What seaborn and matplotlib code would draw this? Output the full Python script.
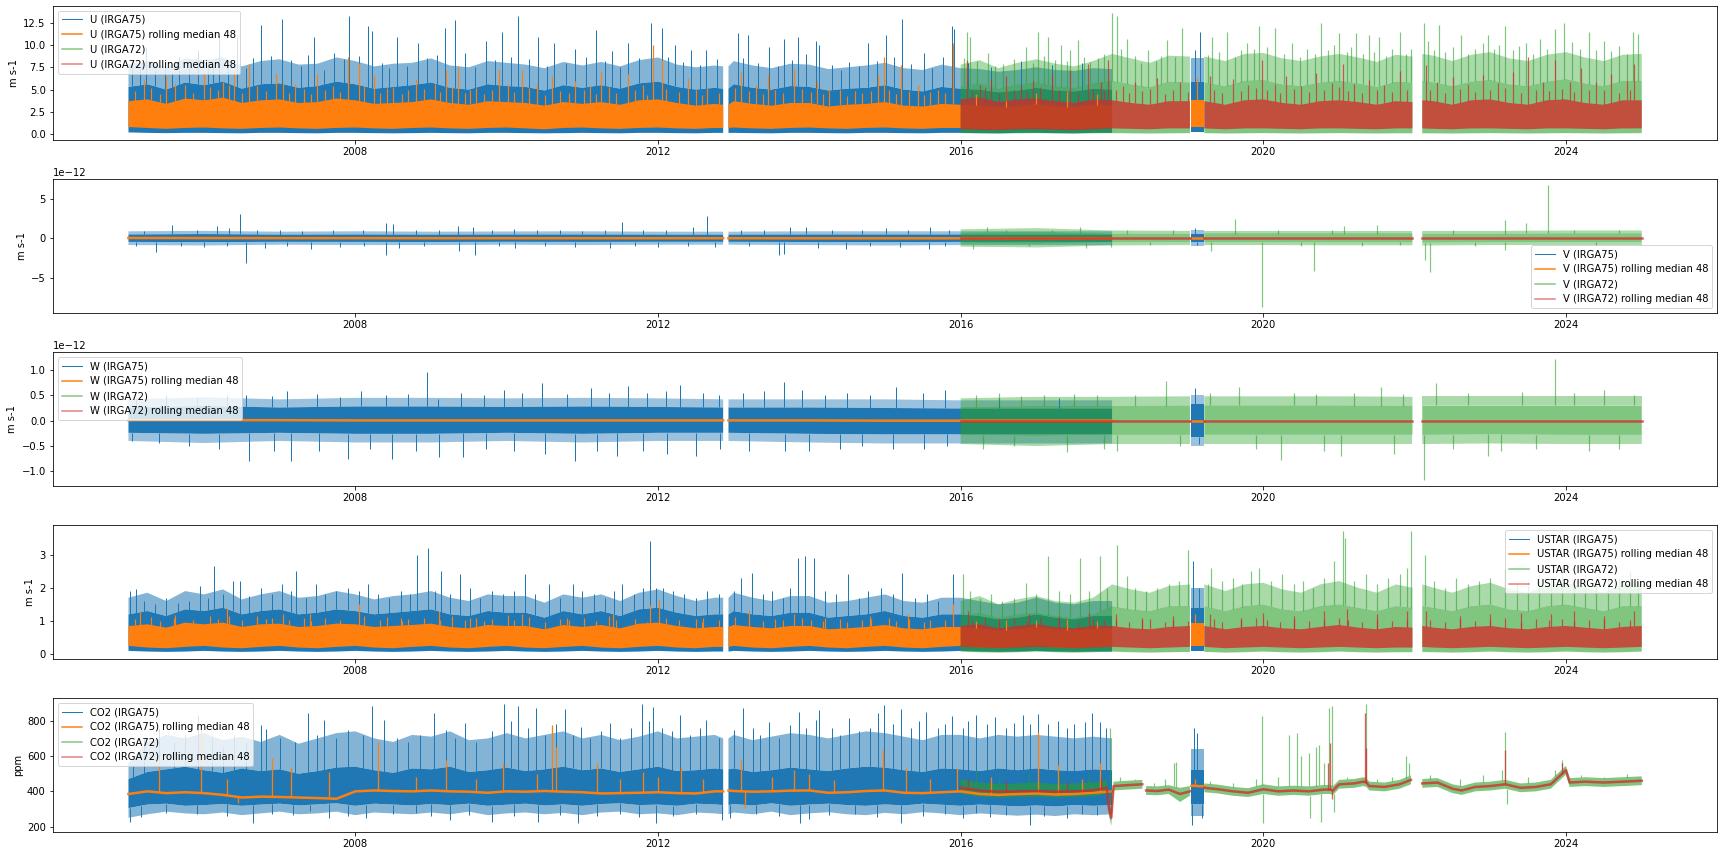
import numpy as np
import pandas as pd
import matplotlib
matplotlib.use("Agg")
import matplotlib.pyplot as plt
import matplotlib.dates as mdates
from matplotlib.lines import Line2D
import seaborn as sns

N = np.nan

# ---------------- time grids (decimal years; NaN values mark data gaps) ----------------
t75q = [2005.0, 2005.25, 2005.5, 2005.75,
        2006.0, 2006.25, 2006.5, 2006.75,
        2007.0, 2007.25, 2007.5, 2007.75,
        2008.0, 2008.25, 2008.5, 2008.75,
        2009.0, 2009.25, 2009.5, 2009.75,
        2010.0, 2010.25, 2010.5, 2010.75,
        2011.0, 2011.25, 2011.5, 2011.75,
        2012.0, 2012.25, 2012.5, 2012.75,
        2012.86, 2012.88, 2012.93,
        2013.0, 2013.25, 2013.5, 2013.75,
        2014.0, 2014.25, 2014.5, 2014.75,
        2015.0, 2015.25, 2015.5, 2015.75,
        2016.0, 2016.25, 2016.5, 2016.75,
        2017.0, 2017.25, 2017.5, 2017.75,
        2018.0, 2018.02, 2019.05, 2019.22]
t72q = [2016.0, 2016.25, 2016.5, 2016.75,
        2017.0, 2017.25, 2017.5, 2017.75,
        2018.0, 2018.25, 2018.5, 2018.75,
        2019.03, 2019.1, 2019.22, 2019.5, 2019.75,
        2020.0, 2020.25, 2020.5, 2020.75,
        2021.0, 2021.25, 2021.5, 2021.75,
        2021.97, 2022.0, 2022.1,
        2022.25, 2022.5, 2022.75,
        2023.0, 2023.25, 2023.5, 2023.75,
        2024.0, 2024.25, 2024.5, 2024.75,
        2025.0]
t75y = [2005.0, 2006.0, 2007.0, 2008.0, 2009.0, 2010.0, 2011.0, 2012.0,
        2012.86, 2012.88, 2012.93, 2014.0, 2015.0, 2016.0, 2017.0, 2018.0,
        2018.02, 2019.05, 2019.22]
t72y = [2016.0, 2017.0, 2018.0, 2019.03, 2019.1, 2019.22, 2020.0, 2021.0,
        2021.97, 2022.0, 2022.1, 2023.0, 2024.0, 2025.0]
t72c = [2016.0, 2016.25, 2016.5, 2016.75,
        2017.0, 2017.25, 2017.5, 2017.75,
        2017.93, 2017.96, 2017.99, 2018.02,
        2018.2, 2018.4, 2018.42, 2018.45,
        2018.6, 2018.75, 2018.9, 2019.03,
        2019.1, 2019.22, 2019.4, 2019.6,
        2019.8, 2020.0, 2020.2, 2020.4,
        2020.6, 2020.8, 2020.88, 2020.92,
        2021.0, 2021.2, 2021.32, 2021.36,
        2021.4, 2021.6, 2021.8, 2021.95,
        2022.0, 2022.1, 2022.3, 2022.5,
        2022.62, 2022.8, 2023.0, 2023.2,
        2023.4, 2023.6, 2023.8, 2023.9,
        2024.0, 2024.05, 2024.25, 2024.5,
        2024.75, 2025.0]

# ---------------- U (m s-1): dense core (lo..hi) and frequent-excursion fringe (hi..fhi) ----------------
u75_lo = [0.2, 0.15, 0.12, 0.15, 0.15, 0.12, 0.1, 0.15, 0.15, 0.12, 0.1, 0.15,
          0.15, 0.12, 0.1, 0.12, 0.15, 0.12, 0.1, 0.15, 0.15, 0.12, 0.1, 0.12,
          0.15, 0.12, 0.1, 0.15, 0.15, 0.12, 0.1, 0.15,
          0.15, N, 0.15,
          0.15, 0.12, 0.1, 0.15, 0.15, 0.12, 0.1, 0.15, 0.15, 0.12, 0.1, 0.15,
          0.15, 0.12, 0.1, 0.15, 0.15, 0.12, 0.1, 0.15,
          0.15, N, 0.2, 0.2]
u75_hi = [5.3, 5.6, 5.0, 5.8, 5.5, 5.9, 5.1, 5.6, 5.7, 5.2, 5.4, 5.9,
          5.6, 5.1, 5.3, 5.5, 5.8, 5.2, 5.0, 5.6, 5.4, 5.3, 4.9, 5.5,
          5.2, 5.5, 5.1, 5.7, 5.9, 5.3, 5.0, 5.2,
          5.1, N, 5.1,
          5.6, 5.2, 5.0, 5.4, 5.3, 4.9, 5.1, 5.2, 5.5, 5.0, 4.8, 5.3,
          5.1, 5.0, 4.7, 4.9, 5.2, 4.9, 4.8, 5.1,
          5.0, N, 5.8, 5.8]
u75_fhi = [7.8, 8.2, 7.5, 8.5, 8.3, 8.6, 7.6, 8.2, 8.4, 7.8, 7.9, 8.6,
           8.2, 7.6, 7.9, 8.0, 8.5, 7.7, 7.5, 8.2, 8.0, 7.8, 7.4, 8.1,
           7.7, 8.1, 7.6, 8.3, 8.6, 7.8, 7.5, 7.7,
           7.6, N, 7.6,
           8.2, 7.7, 7.4, 7.9, 7.8, 7.3, 7.5, 7.7, 8.0, 7.4, 7.2, 7.8,
           7.4, 7.3, 7.0, 7.2, 7.5, 7.2, 7.1, 7.4,
           7.3, N, 8.5, 8.5]
u75_mlo = [0.8, 0.7, 0.6, 0.7, 0.75, 0.65, 0.6, 0.7, 0.75, 0.65, 0.6, 0.7,
           0.75, 0.65, 0.6, 0.7, 0.75, 0.65, 0.6, 0.7, 0.75, 0.65, 0.55, 0.7,
           0.75, 0.65, 0.6, 0.7, 0.75, 0.65, 0.6, 0.7,
           0.7, N, 0.7,
           0.75, 0.65, 0.6, 0.7, 0.75, 0.65, 0.6, 0.7, 0.75, 0.65, 0.6, 0.7,
           0.7, 0.6, 0.55, 0.65, 0.7, 0.6, 0.55, 0.65,
           0.7, N, 0.8, 0.8]
u75_mhi = [3.7, 3.9, 3.4, 4.0, 3.8, 4.1, 3.5, 3.8, 3.9, 3.5, 3.6, 4.0,
           3.8, 3.4, 3.5, 3.6, 3.9, 3.5, 3.3, 3.7, 3.6, 3.5, 3.2, 3.6,
           3.4, 3.6, 3.3, 3.8, 3.9, 3.5, 3.2, 3.4,
           3.3, N, 3.3,
           3.7, 3.4, 3.2, 3.5, 3.5, 3.1, 3.3, 3.4, 3.6, 3.2, 3.1, 3.4,
           3.3, 3.2, 3.0, 3.1, 3.4, 3.1, 3.0, 3.3,
           3.2, N, 3.8, 3.8]
u72_lo = [0.12, 0.1, 0.08, 0.1, 0.12, 0.1, 0.08, 0.1, 0.12, 0.1, 0.08, 0.1,
          0.12, N, 0.12, 0.08, 0.1,
          0.12, 0.1, 0.08, 0.1, 0.12, 0.1, 0.08, 0.1,
          0.1, N, 0.1,
          0.1, 0.08, 0.1,
          0.12, 0.1, 0.08, 0.1, 0.12, 0.1, 0.08, 0.1,
          0.12]
u72_hi = [5.4, 5.7, 5.1, 5.6, 5.8, 5.4, 5.2, 5.7, 6.0, 5.6, 5.3, 5.9,
          5.8, N, 5.8, 5.4, 6.0,
          6.1, 5.6, 5.4, 5.8, 6.0, 5.7, 5.3, 5.9,
          5.8, N, 6.0,
          5.8, 5.4, 5.9,
          6.1, 5.6, 5.4, 5.9, 6.2, 5.7, 5.4, 6.0,
          6.0]
u72_fhi = [7.8, 8.3, 7.4, 8.0, 8.4, 7.9, 7.6, 8.2, 9.0, 8.5, 8.0, 8.8,
           8.7, N, 8.7, 8.2, 9.0,
           9.1, 8.5, 8.2, 8.7, 9.0, 8.6, 8.1, 8.9,
           8.7, N, 9.0,
           8.8, 8.2, 8.9,
           9.2, 8.5, 8.2, 8.9, 9.2, 8.6, 8.2, 8.9,
           9.0]
u72_mlo = [0.55, 0.5, 0.45, 0.55, 0.55, 0.5, 0.45, 0.55, 0.65, 0.6, 0.55, 0.65,
           0.65, N, 0.65, 0.55, 0.65,
           0.65, 0.6, 0.55, 0.65, 0.65, 0.6, 0.55, 0.65,
           0.65, N, 0.65,
           0.6, 0.55, 0.65,
           0.65, 0.6, 0.55, 0.65, 0.65, 0.6, 0.55, 0.65,
           0.65]
u72_mhi = [3.9, 4.1, 3.6, 3.9, 4.0, 3.7, 3.5, 3.9, 3.8, 3.5, 3.3, 3.7,
           3.7, N, 3.7, 3.3, 3.8,
           3.9, 3.5, 3.3, 3.7, 3.8, 3.6, 3.3, 3.7,
           3.6, N, 3.8,
           3.7, 3.3, 3.8,
           3.9, 3.5, 3.3, 3.8, 3.9, 3.5, 3.3, 3.8,
           3.8]
u75_spk_t = [2005.05, 2005.15, 2005.23, 2005.35, 2005.48, 2005.58, 2005.67, 2005.8, 2005.92, 2006.05,
             2006.12, 2006.2, 2006.32, 2006.44, 2006.55, 2006.65, 2006.75, 2006.88, 2007.03, 2007.15,
             2007.28, 2007.38, 2007.45, 2007.58, 2007.72, 2007.85, 2007.92, 2008.05, 2008.17, 2008.22,
             2008.35, 2008.45, 2008.55, 2008.68, 2008.83, 2008.95, 2009.08, 2009.18, 2009.31, 2009.45,
             2009.58, 2009.73, 2009.85, 2009.94, 2010.06, 2010.15, 2010.3, 2010.42, 2010.53, 2010.63,
             2010.78, 2010.9, 2011.05, 2011.18, 2011.3, 2011.39, 2011.5, 2011.6, 2011.75, 2011.91,
             2012.05, 2012.13, 2012.22, 2012.33, 2012.43, 2012.55, 2012.64, 2012.78, 2013.05, 2013.12,
             2013.19, 2013.32, 2013.47, 2013.58, 2013.67, 2013.77, 2013.85, 2013.95, 2014.09, 2014.13,
             2014.3, 2014.42, 2014.52, 2014.65, 2014.78, 2014.9, 2015.01, 2015.12, 2015.23, 2015.35,
             2015.51, 2015.62, 2015.77, 2015.89, 2015.91, 2016.1, 2016.4, 2016.8, 2017.2, 2017.6,
             2019.1, 2019.16]
u75_spk_v = [8.0, 7.5, 9.8, 7.2, 7.8, 7.0, 8.7, 7.6, 9.4, 8.2,
             7.5, 11.1, 8.0, 10.9, 7.4, 8.5, 12.2, 8.8, 12.9, 8.3,
             7.6, 8.9, 10.9, 7.2, 9.1, 8.4, 13.2, 8.8, 12.1, 11.6,
             8.0, 7.4, 10.9, 7.6, 10.2, 8.5, 8.9, 11.9, 12.8, 9.1,
             7.5, 10.4, 8.3, 11.5, 8.7, 13.3, 8.4, 10.9, 7.6, 10.2,
             8.0, 9.6, 8.6, 11.7, 8.2, 9.3, 7.5, 10.2, 8.5, 12.5,
             11.9, 8.7, 10.0, 8.1, 9.4, 7.8, 9.4, 8.4, 11.3, 8.5,
             11.1, 8.0, 9.8, 7.6, 10.7, 8.3, 10.9, 9.0, 10.4, 10.0,
             7.8, 7.2, 8.1, 7.6, 10.2, 8.2, 11.1, 8.6, 12.9, 7.9,
             9.1, 7.4, 8.7, 12.1, 11.8, 8.0, 7.5, 8.2, 7.8, 8.0,
             9.4, 11.4]
u75m_spk_t = [2005.2, 2005.5, 2005.75, 2006.0, 2006.25, 2006.4, 2006.6, 2006.95, 2007.2, 2007.5,
              2007.7, 2007.9, 2008.05, 2008.25, 2008.5, 2008.8, 2009.05, 2009.2, 2009.35, 2009.6,
              2009.9, 2010.2, 2010.4, 2010.6, 2010.9, 2011.1, 2011.25, 2011.6, 2011.8, 2011.93,
              2012.05, 2012.4, 2012.65, 2013.1, 2013.3, 2013.45, 2013.8, 2014.1, 2014.26, 2014.6,
              2014.91, 2014.99, 2015.21, 2015.44, 2015.7, 2015.9, 2019.12]
u75m_spk_v = [6.1, 6.5, 5.5, 7.0, 5.8, 7.3, 7.9, 6.8, 5.6, 6.8,
              5.4, 8.7, 8.0, 6.6, 5.3, 6.2, 5.6, 7.2, 7.6, 5.2,
              7.3, 7.2, 5.6, 6.5, 6.0, 5.4, 7.1, 6.7, 5.5, 10.0,
              8.3, 6.3, 5.2, 7.0, 5.5, 6.6, 7.3, 6.0, 5.1, 4.8,
              6.6, 8.7, 7.8, 5.5, 5.0, 10.2, 6.3]
u75m_mid_t = [2005.08, 2005.3, 2005.42, 2005.62, 2005.85, 2006.08, 2006.18, 2006.33, 2006.5, 2006.7,
              2006.82, 2007.05, 2007.12, 2007.32, 2007.42, 2007.6, 2007.8, 2008.12, 2008.32, 2008.42,
              2008.62, 2008.7, 2008.9, 2009.12, 2009.28, 2009.45, 2009.52, 2009.7, 2009.8, 2010.02,
              2010.1, 2010.3, 2010.5, 2010.7, 2010.82, 2011.02, 2011.18, 2011.35, 2011.45, 2011.7,
              2011.85, 2012.1, 2012.28, 2012.5, 2012.58, 2012.8, 2013.02, 2013.2, 2013.38, 2013.55,
              2013.65, 2013.9, 2014.02, 2014.18, 2014.4, 2014.5, 2014.7, 2014.82, 2015.05, 2015.15,
              2015.32, 2015.52, 2015.6, 2015.8, 2016.2, 2016.6, 2017.0, 2017.4, 2017.8]
u75m_mid_v = [4.8, 5.2, 4.5, 5.6, 4.6, 5.3, 4.9, 5.5, 4.6, 5.4,
              4.8, 5.7, 4.6, 5.1, 4.5, 5.0, 4.7, 5.4, 4.6, 5.2,
              4.5, 4.9, 5.1, 4.7, 5.3, 4.6, 5.0, 4.5, 4.9, 5.6,
              4.7, 5.2, 4.4, 4.8, 4.6, 5.0, 4.5, 5.3, 4.6, 4.9,
              4.4, 5.1, 4.7, 4.9, 4.4, 4.6, 5.2, 4.8, 4.5, 4.9,
              4.6, 5.1, 4.7, 4.5, 4.9, 4.3, 4.6, 4.8, 5.0, 4.5,
              4.8, 4.4, 4.7, 4.6, 4.5, 4.7, 4.6, 4.8, 4.5]
u72_spk_t = [2016.05, 2016.09, 2016.13, 2016.22, 2016.36, 2016.45, 2016.56, 2016.7, 2016.86, 2016.95,
             2017.02, 2017.1, 2017.15, 2017.25, 2017.32, 2017.4, 2017.45, 2017.55, 2017.63, 2017.71,
             2017.81, 2017.9, 2018.0, 2018.06, 2018.12, 2018.2, 2018.3, 2018.38, 2018.47, 2018.58,
             2018.65, 2018.73, 2018.83, 2018.93, 2019.27, 2019.32, 2019.42, 2019.52, 2019.62, 2019.7,
             2019.78, 2019.88, 2019.95, 2020.05, 2020.16, 2020.27, 2020.38, 2020.48, 2020.58, 2020.68,
             2020.76, 2020.86, 2020.93, 2021.0, 2021.1, 2021.16, 2021.23, 2021.31, 2021.39, 2021.46,
             2021.53, 2021.62, 2021.7, 2021.81, 2021.88, 2021.95, 2022.12, 2022.18, 2022.25, 2022.32,
             2022.4, 2022.5, 2022.61, 2022.7, 2022.8, 2022.9, 2022.97, 2023.05, 2023.12, 2023.2,
             2023.3, 2023.38, 2023.47, 2023.56, 2023.66, 2023.75, 2023.86, 2023.98, 2024.08, 2024.18,
             2024.3, 2024.4, 2024.5, 2024.6, 2024.7, 2024.8, 2024.88, 2024.95]
u72_spk_v = [8.5, 11.5, 10.9, 8.2, 9.1, 7.6, 7.9, 8.4, 9.8, 8.0,
             11.5, 8.8, 10.9, 8.3, 10.0, 8.2, 9.4, 10.6, 8.6, 8.1,
             8.5, 9.0, 13.6, 13.2, 9.5, 10.7, 8.8, 8.0, 9.4, 8.2,
             8.8, 10.6, 8.6, 11.9, 8.9, 10.9, 9.2, 11.5, 8.7, 9.4,
             10.2, 9.6, 12.1, 9.8, 11.9, 9.0, 10.2, 8.6, 9.5, 9.0,
             12.5, 9.4, 10.0, 11.3, 9.2, 9.8, 11.3, 9.0, 11.1, 9.2,
             10.9, 8.8, 9.6, 11.4, 9.0, 9.6, 12.5, 10.5, 9.4, 12.2,
             9.2, 9.8, 11.1, 9.0, 9.6, 10.2, 11.1, 9.6, 10.0, 12.1,
             9.4, 9.9, 10.2, 9.0, 10.7, 9.5, 11.8, 12.5, 10.3, 9.6,
             11.5, 9.4, 10.5, 9.3, 9.9, 9.0, 11.4, 11.2]
u72m_spk_t = [2016.08, 2016.25, 2016.4, 2016.6, 2016.8, 2016.95, 2017.2, 2017.45, 2017.68, 2017.85,
              2017.95, 2018.15, 2018.3, 2018.6, 2018.9, 2019.3, 2019.6, 2019.8, 2019.98, 2020.15,
              2020.3, 2020.5, 2020.7, 2020.9, 2021.05, 2021.2, 2021.4, 2021.6, 2021.8, 2022.15,
              2022.3, 2022.5, 2022.7, 2022.9, 2023.1, 2023.3, 2023.5, 2023.7, 2023.85, 2024.05,
              2024.2, 2024.4, 2024.6, 2024.8, 2024.9]
u72m_spk_v = [8.3, 5.5, 6.2, 6.5, 5.4, 6.0, 6.9, 7.2, 7.9, 5.8,
              8.3, 5.4, 5.8, 6.3, 5.8, 6.5, 6.2, 5.5, 8.3, 5.6,
              6.5, 5.4, 6.9, 5.7, 7.9, 5.6, 6.1, 5.5, 7.1, 7.8,
              5.8, 6.4, 5.6, 6.6, 5.7, 7.0, 8.6, 5.8, 8.3, 5.9,
              7.4, 5.8, 6.7, 6.0, 7.9]
u72m_mid_t = [2016.15, 2016.32, 2016.5, 2016.7, 2016.88, 2017.05, 2017.3, 2017.55, 2017.75, 2017.9,
              2018.05, 2018.22, 2018.4, 2018.5, 2018.7, 2018.8, 2019.0, 2019.35, 2019.45, 2019.7,
              2019.9, 2020.05, 2020.22, 2020.4, 2020.6, 2020.8, 2021.0, 2021.12, 2021.3, 2021.5,
              2021.7, 2021.9, 2022.2, 2022.4, 2022.6, 2022.8, 2023.0, 2023.2, 2023.4, 2023.6,
              2023.78, 2023.95, 2024.1, 2024.3, 2024.5, 2024.7, 2024.85]
u72m_mid_v = [4.8, 5.2, 4.6, 5.0, 4.7, 5.3, 4.9, 4.6, 5.1, 4.8,
              5.0, 4.6, 4.8, 5.1, 4.5, 4.9, 4.7, 5.0, 4.6, 4.8,
              5.2, 4.9, 4.6, 5.1, 4.7, 4.9, 5.3, 4.8, 4.6, 5.0,
              4.7, 5.0, 4.9, 4.6, 5.1, 4.7, 4.9, 5.2, 4.6, 5.0,
              4.8, 5.1, 4.7, 4.9, 5.0, 4.6, 4.9]

# ---------------- V (units of 1e-12 m s-1) ----------------
v75_lo = [-0.45, -0.48, -0.44, -0.45, -0.46, -0.44, -0.45, -0.44, -0.44, N, -0.44,
          -0.46, -0.47, -0.45, -0.45, -0.45, N, -0.5, -0.5]
v75_hi = [0.5, 0.55, 0.48, 0.5, 0.48, 0.5, 0.5, 0.48, 0.48, N, 0.48,
          0.5, 0.5, 0.5, 0.5, 0.5, N, 0.6, 0.6]
v75_flo = [-0.85, -0.9, -0.8, -0.85, -0.85, -0.8, -0.85, -0.8, -0.8, N, -0.8,
           -0.85, -0.9, -0.85, -0.85, -0.85, N, -0.95, -0.95]
v75_fhi = [0.9, 0.95, 0.85, 0.9, 0.85, 0.88, 0.9, 0.85, 0.85, N, 0.85,
           0.9, 0.9, 0.9, 0.9, 0.9, N, 1.05, 1.05]
v75_med = [0.05, 0.04, 0.03, 0.03, 0.02, 0.02, 0.02, 0.02, 0.02, N, 0.02,
           0.01, 0.01, 0.01, 0.0, 0.0, N, 0.0, 0.0]
v72_lo = [-0.65, -0.7, -0.5, -0.5, N, -0.5, -0.5, -0.52, -0.52, N, -0.55, -0.5, -0.5, -0.5]
v72_hi = [0.75, 0.85, 0.62, 0.6, N, 0.6, 0.6, 0.6, 0.6, N, 0.6, 0.6, 0.65, 0.65]
v72_flo = [-1.05, -1.15, -0.9, -0.85, N, -0.85, -0.85, -0.88, -0.88, N, -0.9, -0.85, -0.85, -0.85]
v72_fhi = [1.15, 1.3, 1.0, 0.95, N, 0.95, 0.95, 0.95, 0.95, N, 0.95, 0.95, 1.0, 1.0]
v72_med = [0.0, 0.0, 0.0, 0.0, N, 0.0, 0.0, 0.0, 0.0, N, 0.0, 0.0, 0.0, 0.0]
v75_spk_t = [2005.1, 2005.2, 2005.37, 2005.58, 2005.7, 2005.9, 2006.0, 2006.17, 2006.3, 2006.33,
             2006.48, 2006.56, 2006.7, 2006.8, 2007.0, 2007.1, 2007.3, 2007.41, 2007.7, 2007.8,
             2008.1, 2008.12, 2008.4, 2008.41, 2008.5, 2008.57, 2008.8, 2008.9, 2009.1, 2009.35,
             2009.37, 2009.56, 2009.58, 2009.8, 2009.9, 2010.1, 2010.11, 2010.4, 2010.5, 2010.7,
             2010.9, 2011.0, 2011.3, 2011.36, 2011.53, 2011.7, 2011.8, 2012.0, 2012.1, 2012.4,
             2012.46, 2012.65, 2012.75, 2013.1, 2013.2, 2013.4, 2013.6, 2013.67, 2013.74, 2013.95,
             2014.12, 2014.3, 2014.49, 2014.7, 2014.8, 2015.01, 2015.2, 2015.3, 2015.58, 2015.6,
             2015.8, 2015.85, 2019.1, 2019.12]
v75_spk_v = [-1.0, 0.9, -1.7, 1.7, -1.0, 1.0, -1.1, 1.6, -1.0, 1.3,
             3.1, -3.1, 1.1, -1.2, 1.0, -1.0, 0.9, -1.4, 1.0, -1.1,
             1.1, -1.0, 2.0, -2.1, 1.8, -1.2, 1.0, -1.0, 1.1, 1.6,
             -1.6, 1.5, -2.1, 1.0, -1.0, 1.2, -1.2, 1.0, -1.0, 1.1,
             -1.1, 0.9, 1.0, -1.2, 2.1, -1.0, 1.0, -1.1, 1.1, -1.0,
             1.4, 2.8, -1.1, 1.0, -1.0, 1.1, -2.1, -2.0, 1.4, 1.5,
             -1.2, 1.0, -1.3, 1.1, -1.0, 1.3, -1.1, 1.0, -1.3, 1.4,
             -1.0, 1.1, 1.3, -0.8]
v72_spk_t = [2016.16, 2016.35, 2016.6, 2016.9, 2017.2, 2017.58, 2017.66, 2017.99, 2018.2, 2018.5,
             2018.8, 2019.31, 2019.62, 2019.98, 2020.2, 2020.5, 2020.67, 2020.9, 2021.07, 2021.3,
             2021.5, 2021.8, 2022.14, 2022.2, 2022.5, 2022.8, 2023.19, 2023.2, 2023.47, 2023.76,
             2024.1, 2024.4, 2024.7]
v72_spk_v = [-1.4, 1.4, 1.0, -1.0, 1.1, 1.4, -1.2, -1.1, 1.0, -0.9,
             1.1, -1.6, 2.4, -8.7, 1.0, -1.0, -4.1, 1.1, 1.6, -1.0,
             1.7, -0.9, -2.7, -4.3, 1.0, -1.0, -1.5, 2.35, 2.0, 6.8,
             1.1, -1.0, 1.0]

# ---------------- W (units of 1e-12 m s-1) ----------------
w75_lo = [-0.24, -0.26, -0.24, -0.26, -0.26, -0.24, -0.26, -0.24, -0.24, N, -0.24,
          -0.26, -0.27, -0.27, -0.27, -0.27, N, -0.32, -0.32]
w75_hi = [0.26, 0.29, 0.26, 0.28, 0.28, 0.27, 0.28, 0.27, 0.26, N, 0.26,
          0.26, 0.25, 0.24, 0.24, 0.24, N, 0.32, 0.32]
w75_flo = [-0.4, -0.44, -0.4, -0.43, -0.43, -0.4, -0.43, -0.4, -0.4, N, -0.4,
           -0.43, -0.45, -0.45, -0.45, -0.45, N, -0.5, -0.5]
w75_fhi = [0.42, 0.46, 0.42, 0.45, 0.45, 0.44, 0.45, 0.44, 0.42, N, 0.42,
           0.42, 0.42, 0.4, 0.4, 0.4, N, 0.5, 0.5]
w75_med = [0.01, 0.01, 0.01, 0.005, 0.005, 0.005, 0.005, 0.005, 0.005, N, 0.005,
           0.005, 0.0, 0.0, 0.0, 0.0, N, 0.0, 0.0]
w72_lo = [-0.28, -0.3, -0.28, -0.28, N, -0.28, -0.28, -0.28, -0.28, N, -0.28, -0.27, -0.28, -0.28]
w72_hi = [0.27, 0.29, 0.29, 0.3, N, 0.3, 0.3, 0.3, 0.29, N, 0.3, 0.3, 0.3, 0.3]
w72_flo = [-0.46, -0.5, -0.46, -0.46, N, -0.46, -0.46, -0.46, -0.46, N, -0.46, -0.45, -0.46, -0.46]
w72_fhi = [0.44, 0.47, 0.47, 0.48, N, 0.48, 0.48, 0.48, 0.47, N, 0.48, 0.48, 0.48, 0.48]
w72_med = [0.0, 0.0, 0.0, 0.0, N, 0.0, 0.0, 0.0, 0.0, N, 0.0, 0.0, 0.0, 0.0]
w75_spk_t = [2005.05, 2005.1, 2005.4, 2005.5, 2005.8, 2005.9, 2006.2, 2006.3, 2006.55, 2006.6,
             2006.9, 2006.92, 2007.1, 2007.15, 2007.5, 2007.52, 2007.8, 2007.9, 2008.07, 2008.2,
             2008.4, 2008.48, 2008.7, 2008.8, 2008.95, 2009.09, 2009.1, 2009.4, 2009.42, 2009.7,
             2009.72, 2009.97, 2010.1, 2010.2, 2010.46, 2010.5, 2010.8, 2010.9, 2011.11, 2011.2,
             2011.35, 2011.46, 2011.6, 2011.8, 2011.85, 2012.1, 2012.12, 2012.29, 2012.5, 2012.6,
             2012.8, 2012.82, 2013.12, 2013.2, 2013.4, 2013.67, 2013.68, 2013.9, 2014.0, 2014.2,
             2014.4, 2014.5, 2014.7, 2014.8, 2015.1, 2015.15, 2015.5, 2015.52, 2015.8, 2015.82,
             2016.5, 2017.3, 2019.1, 2019.15]
w75_spk_v = [-0.4, 0.45, -0.45, 0.5, -0.5, 0.45, -0.55, 0.5, 0.5, -0.8,
             0.48, -0.6, 0.58, -0.8, 0.52, -0.6, 0.47, -0.75, 0.58, -0.55,
             0.5, -0.76, 0.52, -0.6, 0.96, 0.42, -0.72, 0.55, -0.72, 0.5,
             -0.55, 0.6, -0.6, 0.55, 0.75, -0.65, 0.52, -0.79, 0.64, -0.6,
             0.55, -0.69, 0.68, -0.6, 0.55, 0.58, -0.65, 0.7, -0.7, 0.55,
             0.5, -0.55, 0.55, -0.6, 0.58, 0.77, -0.59, 0.6, -0.6, 0.5,
             -0.56, 0.55, -0.5, 0.5, -0.56, 0.67, 0.55, -0.55, 0.6, -0.5,
             0.45, 0.45, 0.64, -0.46]
w72_spk_t = [2016.2, 2016.3, 2016.5, 2016.7, 2016.8, 2017.1, 2017.4, 2017.5, 2017.8, 2017.9,
             2018.07, 2018.3, 2018.71, 2018.9, 2019.3, 2019.68, 2019.9, 2020.23, 2020.4, 2020.7,
             2020.8, 2021.03, 2021.2, 2021.56, 2021.72, 2021.85, 2022.12, 2022.28, 2022.5, 2022.7,
             2022.97, 2023.14, 2023.42, 2023.6, 2023.86, 2024.1, 2024.3, 2024.5, 2024.7, 2024.9]
w72_spk_v = [0.5, -0.55, 0.54, -0.5, 0.48, 0.5, -0.62, 0.52, 0.5, -0.55,
             -0.59, 0.5, 0.78, -0.5, 0.55, 0.67, -0.55, -0.77, 0.55, 0.52,
             -0.6, -0.69, 0.55, 0.66, -0.66, 0.52, -1.17, 0.75, -0.55, 0.55,
             -0.69, -0.6, 0.57, -0.55, 1.22, 0.55, -0.6, 0.6, -0.55, 0.5]

# ---------------- USTAR (m s-1) ----------------
us75_lo = [0.1, 0.08, 0.07, 0.08, 0.1, 0.08, 0.07, 0.08, 0.1, 0.08, 0.07, 0.08,
           0.1, 0.08, 0.07, 0.08, 0.1, 0.08, 0.07, 0.08, 0.1, 0.08, 0.07, 0.08,
           0.1, 0.08, 0.07, 0.08, 0.1, 0.08, 0.07, 0.08,
           0.08, N, 0.08,
           0.1, 0.08, 0.07, 0.08, 0.1, 0.08, 0.07, 0.08, 0.1, 0.08, 0.07, 0.08,
           0.1, 0.08, 0.07, 0.08, 0.1, 0.08, 0.07, 0.08,
           0.08, N, 0.1, 0.1]
us75_hi = [1.2, 1.3, 1.15, 1.35, 1.3, 1.4, 1.2, 1.3, 1.35, 1.2, 1.25, 1.35,
           1.3, 1.2, 1.25, 1.3, 1.35, 1.2, 1.15, 1.3, 1.25, 1.25, 1.1, 1.3,
           1.2, 1.3, 1.15, 1.35, 1.4, 1.25, 1.15, 1.2,
           1.2, N, 1.2,
           1.3, 1.2, 1.15, 1.25, 1.25, 1.1, 1.15, 1.2, 1.3, 1.15, 1.1, 1.2,
           1.2, 1.15, 1.05, 1.1, 1.2, 1.1, 1.05, 1.15,
           1.15, N, 1.4, 1.4]
us75_fhi = [1.7, 1.85, 1.6, 1.9, 1.8, 1.95, 1.65, 1.8, 1.9, 1.7, 1.75, 1.9,
            1.8, 1.65, 1.75, 1.8, 1.9, 1.7, 1.6, 1.8, 1.75, 1.75, 1.55, 1.8,
            1.7, 1.8, 1.6, 1.85, 1.95, 1.75, 1.6, 1.7,
            1.7, N, 1.7,
            1.85, 1.7, 1.6, 1.75, 1.75, 1.55, 1.6, 1.7, 1.8, 1.6, 1.55, 1.7,
            1.7, 1.6, 1.5, 1.55, 1.7, 1.55, 1.5, 1.6,
            1.6, N, 2.0, 2.0]
us75_mlo = [0.25, 0.2, 0.18, 0.22, 0.25, 0.2, 0.18, 0.22, 0.25, 0.2, 0.18, 0.22,
            0.25, 0.2, 0.18, 0.22, 0.25, 0.2, 0.18, 0.22, 0.25, 0.2, 0.18, 0.22,
            0.25, 0.2, 0.18, 0.22, 0.25, 0.2, 0.18, 0.22,
            0.22, N, 0.22,
            0.25, 0.2, 0.18, 0.22, 0.25, 0.2, 0.18, 0.22, 0.25, 0.2, 0.18, 0.22,
            0.25, 0.2, 0.18, 0.22, 0.25, 0.2, 0.18, 0.22,
            0.22, N, 0.25, 0.25]
us75_mhi = [0.85, 0.9, 0.8, 0.95, 0.9, 0.95, 0.82, 0.9, 0.92, 0.82, 0.85, 0.92,
            0.9, 0.82, 0.85, 0.88, 0.92, 0.82, 0.78, 0.88, 0.85, 0.85, 0.75, 0.88,
            0.82, 0.88, 0.78, 0.92, 0.95, 0.85, 0.78, 0.82,
            0.82, N, 0.82,
            0.88, 0.82, 0.78, 0.85, 0.85, 0.75, 0.78, 0.82, 0.88, 0.78, 0.75, 0.82,
            0.82, 0.78, 0.72, 0.75, 0.82, 0.75, 0.72, 0.78,
            0.78, N, 0.95, 0.95]
us72_lo = [0.08, 0.06, 0.05, 0.06, 0.08, 0.06, 0.05, 0.06, 0.08, 0.06, 0.05, 0.06,
           0.07, N, 0.07, 0.05, 0.06,
           0.08, 0.06, 0.05, 0.06, 0.08, 0.06, 0.05, 0.06,
           0.06, N, 0.07,
           0.06, 0.05, 0.06,
           0.08, 0.06, 0.05, 0.06, 0.08, 0.06, 0.05, 0.06,
           0.08]
us72_hi = [1.15, 1.25, 1.1, 1.2, 1.25, 1.15, 1.1, 1.2, 1.45, 1.35, 1.3, 1.45,
           1.45, N, 1.45, 1.3, 1.45,
           1.5, 1.35, 1.3, 1.45, 1.5, 1.4, 1.3, 1.45,
           1.4, N, 1.45,
           1.4, 1.3, 1.45,
           1.5, 1.35, 1.3, 1.45, 1.5, 1.4, 1.3, 1.45,
           1.45]
us72_fhi = [1.6, 1.75, 1.5, 1.65, 1.75, 1.6, 1.55, 1.7, 2.1, 1.95, 1.85, 2.05,
            2.1, N, 2.1, 1.9, 2.1,
            2.15, 1.95, 1.85, 2.1, 2.2, 2.0, 1.85, 2.1,
            2.0, N, 2.1,
            2.0, 1.85, 2.05,
            2.15, 1.95, 1.85, 2.05, 2.15, 2.0, 1.85, 2.1,
            2.1]
us72_mlo = [0.22, 0.2, 0.18, 0.2, 0.22, 0.2, 0.18, 0.2, 0.22, 0.2, 0.18, 0.2,
            0.22, N, 0.22, 0.18, 0.2,
            0.22, 0.2, 0.18, 0.2, 0.22, 0.2, 0.18, 0.2,
            0.2, N, 0.22,
            0.2, 0.18, 0.2,
            0.22, 0.2, 0.18, 0.2, 0.22, 0.2, 0.18, 0.2,
            0.22]
us72_mhi = [0.85, 0.9, 0.78, 0.85, 0.9, 0.82, 0.78, 0.85, 0.85, 0.78, 0.75, 0.82,
            0.85, N, 0.85, 0.75, 0.82,
            0.85, 0.78, 0.75, 0.82, 0.88, 0.8, 0.75, 0.82,
            0.8, N, 0.85,
            0.8, 0.75, 0.82,
            0.85, 0.78, 0.75, 0.82, 0.85, 0.8, 0.75, 0.82,
            0.85]
us75_spk_t = [2005.02, 2005.1, 2005.2, 2005.35, 2005.5, 2005.65, 2005.8, 2005.95, 2006.05, 2006.13,
              2006.25, 2006.38, 2006.48, 2006.6, 2006.75, 2006.9, 2007.03, 2007.15, 2007.22, 2007.35,
              2007.48, 2007.6, 2007.75, 2007.9, 2008.05, 2008.17, 2008.3, 2008.45, 2008.6, 2008.72,
              2008.82, 2008.96, 2009.05, 2009.13, 2009.25, 2009.38, 2009.52, 2009.65, 2009.8, 2009.95,
              2010.1, 2010.24, 2010.38, 2010.56, 2010.7, 2010.87, 2011.0, 2011.15, 2011.3, 2011.42,
              2011.53, 2011.68, 2011.8, 2011.9, 2011.97, 2012.07, 2012.2, 2012.35, 2012.5, 2012.65,
              2012.8, 2013.0, 2013.09, 2013.24, 2013.38, 2013.5, 2013.65, 2013.75, 2013.85, 2013.94,
              2014.06, 2014.2, 2014.35, 2014.51, 2014.65, 2014.78, 2014.95, 2015.1, 2015.23, 2015.4,
              2015.55, 2015.7, 2015.9, 2019.07, 2019.15]
us75_spk_v = [1.9, 1.95, 1.6, 1.5, 1.7, 1.55, 1.6, 2.05, 1.7, 2.65,
              1.8, 2.2, 2.2, 1.75, 2.0, 1.8, 2.1, 1.9, 2.5, 1.7,
              2.1, 1.8, 1.9, 2.0, 1.9, 2.1, 1.8, 1.7, 1.9, 1.8,
              3.0, 3.2, 1.9, 2.5, 1.8, 2.4, 2.0, 1.7, 1.9, 1.8,
              1.9, 2.4, 1.8, 2.1, 1.7, 2.1, 1.9, 1.8, 1.7, 1.9,
              2.1, 1.8, 2.0, 3.4, 2.0, 2.0, 1.9, 1.8, 1.7, 1.9,
              1.8, 1.9, 2.3, 2.45, 1.8, 1.9, 1.7, 2.0, 2.9, 2.95,
              2.9, 1.9, 1.8, 2.4, 1.7, 1.9, 2.0, 1.8, 2.45, 1.7,
              1.8, 1.6, 2.4, 2.8, 2.0]
us75m_spk_t = [2005.15, 2005.6, 2006.3, 2006.9, 2007.4, 2008.05, 2008.6, 2009.1, 2009.6, 2010.2,
               2010.8, 2011.4, 2011.9, 2012.02, 2012.6, 2013.2, 2013.8, 2014.2, 2014.8, 2015.3,
               2015.9, 2019.1]
us75m_spk_v = [1.3, 1.1, 1.4, 1.1, 1.2, 1.5, 1.1, 1.3, 1.1, 1.2,
               1.1, 1.2, 1.47, 1.63, 1.1, 1.3, 1.2, 1.1, 1.15, 1.2,
               1.5, 1.2]
us75m_mid_v = [1.05, 1.12, 1.0, 1.18, 1.02, 1.14, 1.07, 1.16, 1.02, 1.15,
               1.05, 1.2, 1.02, 1.1, 1.0, 1.09, 1.04, 1.15, 1.02, 1.12,
               1.0, 1.07, 1.1, 1.04, 1.14, 1.02, 1.09, 1.0, 1.07, 1.18,
               1.04, 1.12, 0.98, 1.05, 1.02, 1.09, 1.0, 1.14, 1.02, 1.07,
               0.98, 1.1, 1.04, 1.07, 0.98, 1.02, 1.12, 1.05, 1.0, 1.07,
               1.02, 1.1, 1.04, 1.0, 1.07, 0.96, 1.02, 1.05, 1.09, 1.0,
               1.05, 0.98, 1.04, 1.02, 1.0, 1.04, 1.02, 1.05, 1.0]
us72_spk_t = [2016.03, 2016.12, 2016.25, 2016.4, 2016.55, 2016.7, 2016.86, 2017.0, 2017.15, 2017.3,
              2017.45, 2017.57, 2017.7, 2017.84, 2017.93, 2018.07, 2018.2, 2018.3, 2018.45, 2018.6,
              2018.75, 2018.88, 2019.01, 2019.27, 2019.31, 2019.45, 2019.6, 2019.72, 2019.84, 2019.95,
              2020.1, 2020.25, 2020.4, 2020.52, 2020.65, 2020.8, 2020.93, 2021.05, 2021.08, 2021.2,
              2021.35, 2021.5, 2021.65, 2021.8, 2021.9, 2021.95, 2022.13, 2022.25, 2022.4, 2022.55,
              2022.7, 2022.85, 2023.0, 2023.2, 2023.35, 2023.5, 2023.65, 2023.8, 2023.95, 2024.1,
              2024.25, 2024.4, 2024.55, 2024.7, 2024.85, 2024.95]
us72_spk_v = [2.4, 1.9, 1.7, 1.8, 1.6, 1.7, 2.15, 1.8, 2.95, 1.9,
              1.8, 2.9, 1.9, 2.95, 2.0, 3.3, 2.35, 2.0, 1.9, 2.0,
              2.1, 2.2, 3.15, 2.1, 2.6, 2.2, 2.3, 2.1, 2.5, 2.6,
              2.2, 2.4, 2.1, 2.2, 2.0, 2.3, 2.8, 3.7, 3.5, 2.2,
              2.4, 2.1, 2.3, 2.4, 2.6, 3.7, 3.0, 2.2, 2.0, 2.3,
              2.1, 2.2, 2.3, 2.55, 2.1, 2.2, 2.4, 2.3, 2.7, 2.2,
              2.4, 2.1, 2.2, 2.3, 2.5, 2.2]
us72m_spk_t = [2016.1, 2016.5, 2016.9, 2017.3, 2017.7, 2018.05, 2018.4, 2018.8, 2019.3, 2019.7,
               2020.0, 2020.4, 2020.8, 2021.1, 2021.5, 2021.9, 2022.15, 2022.6, 2023.0, 2023.4,
               2023.8, 2024.1, 2024.5, 2024.9]
us72m_spk_v = [1.3, 1.1, 1.2, 1.15, 1.25, 1.2, 1.1, 1.15, 1.2, 1.1,
               1.25, 1.15, 1.3, 1.35, 1.2, 1.3, 1.3, 1.15, 1.2, 1.25,
               1.2, 1.3, 1.15, 1.3]
us72m_mid_v = [1.02, 1.08, 0.98, 1.05, 1.0, 1.1, 1.03, 0.98, 1.06, 1.02,
               1.05, 0.98, 1.02, 1.06, 0.97, 1.03, 1.0, 1.05, 0.98, 1.02,
               1.08, 1.03, 0.98, 1.06, 1.0, 1.03, 1.1, 1.02, 0.98, 1.05,
               1.0, 1.05, 1.03, 0.98, 1.06, 1.0, 1.03, 1.08, 0.98, 1.05,
               1.02, 1.06, 1.0, 1.03, 1.05, 0.98, 1.03]

# ---------------- CO2 (ppm) ----------------
co2_75_lo = [305, 325, 330, 318, 322, 328, 318, 325, 330, 320, 326, 332,
             318, 330, 325, 320, 328, 322, 330, 318, 324, 330, 320, 326,
             318, 328, 332, 322, 325, 318, 330, 326,
             322, N, 322,
             328, 320, 332, 318, 325, 330, 322, 318, 326, 320, 330, 324,
             318, 325, 320, 315, 320, 314, 322, 318,
             322, N, 330, 330]
co2_75_hi = [470, 510, 525, 540, 520, 505, 530, 515, 525, 500, 515, 535,
             540, 520, 505, 530, 525, 540, 510, 520, 535, 515, 525, 540,
             520, 530, 510, 525, 540, 515, 520, 530,
             525, N, 525,
             530, 510, 520, 535, 525, 515, 530, 540, 535, 520, 510, 530,
             525, 515, 530, 520, 530, 520, 515, 525,
             520, N, 520, 520]
co2_75_fhi = [560, 680, 720, 700, 730, 690, 710, 680, 720, 670, 700, 730,
              740, 700, 680, 720, 710, 740, 690, 700, 730, 700, 720, 740,
              700, 720, 690, 710, 740, 700, 710, 720,
              700, N, 700,
              720, 690, 710, 730, 720, 700, 720, 740, 730, 710, 690, 720,
              720, 700, 720, 710, 720, 710, 700, 710,
              700, N, 640, 640]
co2_75_flo = [250, 270, 285, 275, 270, 280, 265, 275, 285, 270, 275, 285,
              265, 280, 275, 270, 280, 270, 285, 265, 275, 280, 270, 278,
              265, 280, 285, 270, 275, 265, 280, 275,
              270, N, 270,
              280, 270, 285, 265, 275, 282, 270, 265, 278, 270, 282, 275,
              265, 275, 268, 262, 268, 260, 270, 265,
              270, N, 260, 260]
co2_75_med = [385, 400, 390, 395, 390, 380, 365, 370, 368, 365, 362, 358,
              400, 405, 402, 400, 405, 400, 398, 392, 400, 398, 402, 398,
              395, 388, 390, 392, 395, 390, 388, 400,
              400, N, 405,
              402, 398, 400, 404, 405, 392, 395, 402, 405, 392, 390, 395,
              400, 385, 380, 385, 388, 382, 385, 392,
              400, N, 432, 428]
co2_72_med = [420, 405, 398, 400, 402, 398, 400, 405, 420, 300, 250, 430,
              435, 440, N, 405, 402, 410, 385, 400, N, 420, 412, 400,
              392, 412, 400, 405, 400, 410, 410, 405, 440, 445, 455, 450,
              430, 425, 440, 465, N, 445, 450, 415, 405, 425, 430, 440,
              420, 425, 440, 480, 520, 450, 455, 450, 455, 460]
co2_72_lo = [385, 370, 365, 368, 370, 365, 368, 372, 385, 260, 205, 405,
             410, 415, N, 380, 378, 385, 340, 375, N, 395, 388, 375,
             368, 385, 375, 380, 375, 385, 385, 380, 415, 420, 430, 425,
             405, 400, 415, 440, N, 420, 425, 390, 380, 400, 405, 415,
             395, 400, 415, 455, 495, 425, 430, 425, 430, 435]
co2_72_hi = [470, 450, 440, 445, 450, 440, 445, 450, 465, 340, 300, 455,
             460, 465, N, 430, 428, 435, 420, 430, N, 445, 438, 425,
             418, 440, 428, 432, 428, 436, 436, 430, 465, 470, 480, 475,
             455, 450, 465, 490, N, 470, 475, 440, 430, 450, 455, 465,
             445, 450, 465, 505, 545, 475, 480, 475, 480, 485]
co2_75_up_t = [2005.06, 2005.2, 2005.4, 2005.6, 2005.75, 2005.92, 2006.1, 2006.25, 2006.4, 2006.55,
               2006.75, 2006.82, 2007.0, 2007.2, 2007.38, 2007.5, 2007.58, 2007.75, 2007.9, 2008.1,
               2008.22, 2008.38, 2008.55, 2008.7, 2008.85, 2009.04, 2009.2, 2009.32, 2009.45, 2009.6,
               2009.8, 2009.97, 2010.05, 2010.15, 2010.28, 2010.39, 2010.5, 2010.65, 2010.77, 2010.88,
               2010.98, 2011.1, 2011.25, 2011.36, 2011.5, 2011.65, 2011.79, 2011.88, 2011.94, 2012.05,
               2012.18, 2012.29, 2012.42, 2012.55, 2012.64, 2012.8, 2013.0, 2013.12, 2013.25, 2013.35,
               2013.47, 2013.6, 2013.74, 2013.86, 2013.95, 2014.09, 2014.13, 2014.3, 2014.4, 2014.52,
               2014.65, 2014.8, 2014.91, 2014.99, 2015.1, 2015.21, 2015.35, 2015.45, 2015.54, 2015.7,
               2015.8, 2015.89, 2016.03, 2016.1, 2016.2, 2016.35, 2016.46, 2016.6, 2016.7, 2016.82,
               2016.92, 2017.02, 2017.15, 2017.28, 2017.4, 2017.5, 2017.64, 2017.73, 2017.84, 2017.92,
               2019.08, 2019.13]
co2_75_up_v = [549, 700, 760, 680, 720, 832, 700, 650, 720, 680,
               775, 751, 700, 680, 842, 720, 804, 700, 750, 720,
               883, 804, 700, 680, 720, 842, 750, 700, 789, 680,
               740, 894, 800, 883, 760, 870, 720, 780, 864, 720,
               766, 700, 740, 785, 700, 760, 894, 800, 879, 760,
               740, 832, 720, 760, 804, 700, 750, 870, 760, 720,
               794, 700, 775, 851, 760, 804, 860, 760, 720, 813,
               740, 760, 842, 889, 780, 864, 760, 800, 851, 760,
               780, 826, 760, 800, 832, 780, 823, 760, 790, 832,
               780, 838, 780, 800, 760, 780, 794, 845, 794, 760,
               757, 728]
co2_75_dn_t = [2005.02, 2005.16, 2005.5, 2005.9, 2006.3, 2006.65, 2006.9, 2007.17, 2007.4, 2007.65,
               2007.9, 2008.14, 2008.5, 2008.8, 2009.0, 2009.25, 2009.5, 2009.8, 2010.1, 2010.42,
               2010.7, 2010.94, 2011.2, 2011.5, 2011.75, 2011.98, 2012.2, 2012.5, 2012.84, 2012.95,
               2013.3, 2013.6, 2013.88, 2013.99, 2014.26, 2014.6, 2014.9, 2015.21, 2015.5, 2015.8,
               2016.03, 2016.2, 2016.39, 2016.6, 2016.92, 2017.1, 2017.41, 2017.6, 2017.8, 2019.06,
               2019.19]
co2_75_dn_v = [228, 257, 280, 270, 260, 219, 270, 266, 290, 247,
               260, 247, 270, 280, 260, 238, 265, 228, 260, 228,
               265, 219, 260, 270, 255, 219, 260, 270, 238, 247,
               270, 260, 223, 241, 266, 270, 255, 219, 260, 270,
               247, 280, 257, 265, 209, 260, 247, 270, 266, 209,
               247]
co2_75m_spk_t = [2005.4, 2005.96, 2006.3, 2006.45, 2006.9, 2007.15, 2007.65, 2008.3, 2008.8, 2009.2,
                 2009.6, 2009.95, 2010.4, 2010.6, 2010.65, 2011.2, 2011.5, 2011.8, 2012.0, 2012.3,
                 2012.6, 2013.1, 2013.15, 2013.5, 2013.8, 2014.0, 2014.32, 2014.98, 2015.28, 2015.6,
                 2015.95, 2016.4, 2017.02, 2017.28, 2017.6, 2017.84, 2019.1]
co2_75m_spk_v = [580, 757, 470, 332, 587, 540, 510, 681, 480, 580,
                 470, 560, 500, 775, 650, 558, 470, 510, 480, 540,
                 470, 580, 304, 480, 520, 500, 464, 634, 530, 470,
                 530, 480, 738, 549, 470, 558, 470]
co2_72_spk_t = [2016.2, 2016.5, 2016.9, 2017.3, 2017.7, 2017.97, 2018.1, 2018.3, 2018.55, 2018.7,
                2018.82, 2018.85, 2018.9, 2019.3, 2019.6, 2019.9, 2019.98, 2020.0, 2020.2, 2020.34,
                2020.44, 2020.5, 2020.6, 2020.62, 2020.7, 2020.74, 2020.76, 2020.8, 2020.87, 2020.9,
                2020.93, 2021.1, 2021.35, 2021.5, 2021.7, 2021.88, 2021.92, 2022.2, 2022.6, 2022.9,
                2023.15, 2023.2, 2023.22, 2023.5, 2023.85, 2023.95, 2024.2, 2024.5, 2024.8]
co2_72_spk_v = [520, 480, 500, 490, 500, 757, 480, 470, 450, 470,
                560, 568, 341, 460, 450, 470, 826, 219, 480, 719,
                728, 600, 615, 247, 650, 662, 228, 560, 870, 883,
                285, 480, 894, 470, 480, 600, 560, 490, 470, 490,
                520, 738, 330, 480, 520, 580, 490, 480, 500]
co2_72m_spk_t = [2016.1, 2016.6, 2017.4, 2017.85, 2020.85, 2020.88, 2020.91, 2021.34, 2021.36, 2023.2, 2023.95]
co2_72m_spk_v = [470, 460, 455, 470, 560, 672, 355, 842, 643, 634, 560]

variables = ["U", "V", "W", "USTAR", "CO2"]
units = ["m s-1", "m s-1", "m s-1", "m s-1", "ppm"]

# ---------------- helpers ----------------
C0, C1, C2, C3 = "#1f77b4", "#ff7f0e", "#2ca02c", "#d62728"
A72 = 0.6      # IRGA72 raw
AMED = 0.75    # IRGA72 rolling median as it renders on the dense plot
AF = 0.45      # fringe of V/W
AFU = 0.55     # fringe of U/USTAR/CO2 (IRGA75)
AF72 = 0.4
E12 = 1e-12


def yr2dt(vals):
    out = []
    for y in vals:
        yi = int(np.floor(y))
        a = pd.Timestamp(year=yi, month=1, day=1)
        b = pd.Timestamp(year=yi + 1, month=1, day=1)
        out.append(a + (y - yi) * (b - a))
    return pd.DatetimeIndex(out)


def band(ax, t, lo, hi, color, alpha=1.0, scale=1.0):
    n = min(len(t), len(lo), len(hi))
    t = np.asarray(t[:n], float)
    lo = np.asarray(lo[:n], float) * scale
    hi = np.asarray(hi[:n], float) * scale
    ax.fill_between(yr2dt(t), lo, hi, color=color, alpha=alpha, lw=0)


def spikes(ax, ts, vs, tb, lo, hi, color, alpha=1.0, lw=1.0, scale=1.0):
    n = min(len(ts), len(vs))
    ts = np.asarray(ts[:n], float)
    vs = np.asarray(vs[:n], float)
    m = min(len(tb), len(lo), len(hi))
    tb = np.asarray(tb[:m], float)
    lo = np.asarray(lo[:m], float)
    hi = np.asarray(hi[:m], float)
    ok = ~(np.isnan(lo) | np.isnan(hi))
    top = np.interp(ts, tb[ok], hi[ok])
    bot = np.interp(ts, tb[ok], lo[ok])
    foot = np.where(vs >= top, top, np.where(vs <= bot, bot, vs))
    ax.vlines(yr2dt(ts), foot * scale, vs * scale, colors=color, alpha=alpha, linewidth=lw)


def seg_line(ax, t, y, color, lw, alpha=1.0, scale=1.0):
    n = min(len(t), len(y))
    t = np.asarray(t[:n], float)
    y = np.asarray(y[:n], float)
    idx = np.flatnonzero(~np.isnan(y))
    groups = np.split(idx, np.flatnonzero(np.diff(idx) > 1) + 1)
    for g in groups:
        if len(g) < 2:
            continue
        df = pd.DataFrame({"t": yr2dt(t[g]), "y": y[g] * scale})
        sns.lineplot(data=df, x="t", y="y", ax=ax, color=color, lw=lw, alpha=alpha,
                     estimator=None, sort=False, legend=False)


# ---------------- figure ----------------
fig, axes = plt.subplots(5, 1, figsize=(1726 / 72, 856 / 72), dpi=72)
fig.subplots_adjust(left=0.0305, right=0.995, bottom=0.0277, top=0.993, hspace=0.2925)

# U
ax = axes[0]
band(ax, t75q, u75_hi, u75_fhi, C0, AFU)
band(ax, t75q, u75_lo, u75_hi, C0)
spikes(ax, u75_spk_t, u75_spk_v, t75q, u75_lo, u75_hi, C0)
band(ax, t75q, u75_mlo, u75_mhi, C1)
spikes(ax, u75m_mid_t, u75m_mid_v, t75q, u75_mlo, u75_mhi, C1, lw=1.2)
spikes(ax, u75m_spk_t, u75m_spk_v, t75q, u75_mlo, u75_mhi, C1, lw=1.2)
band(ax, t72q, u72_hi, u72_fhi, C2, AF72)
band(ax, t72q, u72_lo, u72_hi, C2, A72)
spikes(ax, u72_spk_t, u72_spk_v, t72q, u72_lo, u72_hi, C2, A72, lw=1.2)
band(ax, t72q, u72_mlo, u72_mhi, C3, AMED)
spikes(ax, u72m_mid_t, u72m_mid_v, t72q, u72_mlo, u72_mhi, C3, AMED, lw=1.2)
spikes(ax, u72m_spk_t, u72m_spk_v, t72q, u72_mlo, u72_mhi, C3, AMED, lw=1.2)

# V
ax = axes[1]
band(ax, t75y, v75_hi, v75_fhi, C0, AF, scale=E12)
band(ax, t75y, v75_flo, v75_lo, C0, AF, scale=E12)
band(ax, t75y, v75_lo, v75_hi, C0, scale=E12)
spikes(ax, v75_spk_t, v75_spk_v, t75y, v75_lo, v75_hi, C0, scale=E12)
seg_line(ax, t75y, v75_med, C1, 2.5, scale=E12)
band(ax, t72y, v72_hi, v72_fhi, C2, AF72, scale=E12)
band(ax, t72y, v72_flo, v72_lo, C2, AF72, scale=E12)
band(ax, t72y, v72_lo, v72_hi, C2, A72, scale=E12)
spikes(ax, v72_spk_t, v72_spk_v, t72y, v72_lo, v72_hi, C2, A72, lw=1.2, scale=E12)
seg_line(ax, t72y, v72_med, C3, 2.5, AMED, scale=E12)

# W
ax = axes[2]
band(ax, t75y, w75_hi, w75_fhi, C0, AF, scale=E12)
band(ax, t75y, w75_flo, w75_lo, C0, AF, scale=E12)
band(ax, t75y, w75_lo, w75_hi, C0, scale=E12)
spikes(ax, w75_spk_t, w75_spk_v, t75y, w75_lo, w75_hi, C0, scale=E12)
seg_line(ax, t75y, w75_med, C1, 2.5, scale=E12)
band(ax, t72y, w72_hi, w72_fhi, C2, AF72, scale=E12)
band(ax, t72y, w72_flo, w72_lo, C2, AF72, scale=E12)
band(ax, t72y, w72_lo, w72_hi, C2, A72, scale=E12)
spikes(ax, w72_spk_t, w72_spk_v, t72y, w72_lo, w72_hi, C2, A72, lw=1.2, scale=E12)
seg_line(ax, t72y, w72_med, C3, 2.5, AMED, scale=E12)

# USTAR
ax = axes[3]
band(ax, t75q, us75_hi, us75_fhi, C0, AFU)
band(ax, t75q, us75_lo, us75_hi, C0)
spikes(ax, us75_spk_t, us75_spk_v, t75q, us75_lo, us75_hi, C0)
band(ax, t75q, us75_mlo, us75_mhi, C1)
spikes(ax, u75m_mid_t, us75m_mid_v, t75q, us75_mlo, us75_mhi, C1, lw=1.2)
spikes(ax, us75m_spk_t, us75m_spk_v, t75q, us75_mlo, us75_mhi, C1, lw=1.2)
band(ax, t72q, us72_hi, us72_fhi, C2, AF72)
band(ax, t72q, us72_lo, us72_hi, C2, A72)
spikes(ax, us72_spk_t, us72_spk_v, t72q, us72_lo, us72_hi, C2, A72, lw=1.2)
band(ax, t72q, us72_mlo, us72_mhi, C3, AMED)
spikes(ax, u72m_mid_t, us72m_mid_v, t72q, us72_mlo, us72_mhi, C3, AMED, lw=1.2)
spikes(ax, us72m_spk_t, us72m_spk_v, t72q, us72_mlo, us72_mhi, C3, AMED, lw=1.2)

# CO2
ax = axes[4]
band(ax, t75q, co2_75_hi, co2_75_fhi, C0, AFU)
band(ax, t75q, co2_75_flo, co2_75_lo, C0, AFU)
band(ax, t75q, co2_75_lo, co2_75_hi, C0)
spikes(ax, co2_75_up_t, co2_75_up_v, t75q, co2_75_lo, co2_75_hi, C0)
spikes(ax, co2_75_dn_t, co2_75_dn_v, t75q, co2_75_lo, co2_75_hi, C0)
seg_line(ax, t75q, co2_75_med, C1, 2.5)
spikes(ax, co2_75m_spk_t, co2_75m_spk_v, t75q, co2_75_med, co2_75_med, C1, lw=1.3)
band(ax, t72c, co2_72_lo, co2_72_hi, C2, A72)
spikes(ax, co2_72_spk_t, co2_72_spk_v, t72c, co2_72_lo, co2_72_hi, C2, A72, lw=1.2)
seg_line(ax, t72c, co2_72_med, C3, 2.5, AMED)
spikes(ax, co2_72m_spk_t, co2_72m_spk_v, t72c, co2_72_med, co2_72_med, C3, AMED, lw=1.3)

ylims = [(-0.64, 14.37), (-9.48e-12, 7.53e-12), (-1.29e-12, 1.35e-12), (-0.15, 3.88), (168, 927)]
yticks = [[0, 2.5, 5, 7.5, 10, 12.5], [-5e-12, 0, 5e-12],
          [-1e-12, -0.5e-12, 0, 0.5e-12, 1e-12], [0, 1, 2, 3], [200, 400, 600, 800]]
locs = ["upper left", "lower right", "upper left", "upper right", "upper left"]

for i, ax in enumerate(axes):
    var = variables[i]
    labels = [f"{var} (IRGA75)", f"{var} (IRGA75) rolling median 48",
              f"{var} (IRGA72)", f"{var} (IRGA72) rolling median 48"]
    handles = [Line2D([], [], color=C0, lw=1.0),
               Line2D([], [], color=C1, lw=1.5),
               Line2D([], [], color=C2, lw=1.5, alpha=A72),
               Line2D([], [], color=C3, lw=1.5, alpha=A72)]
    ax.legend(handles, labels, loc=locs[i], fontsize=10)
    ax.set_xlim(yr2dt([2004.0, 2026.0]))
    ax.set_xticks(yr2dt([2008, 2012, 2016, 2020, 2024]))
    ax.xaxis.set_major_formatter(mdates.DateFormatter("%Y"))
    ax.xaxis.set_minor_locator(matplotlib.ticker.NullLocator())
    ax.set_ylim(*ylims[i])
    ax.set_yticks(yticks[i])
    ax.set_xlabel("")
    ax.set_ylabel(units[i], fontsize=10)
    ax.tick_params(labelsize=10)

fig.savefig("out.png", dpi=72)
